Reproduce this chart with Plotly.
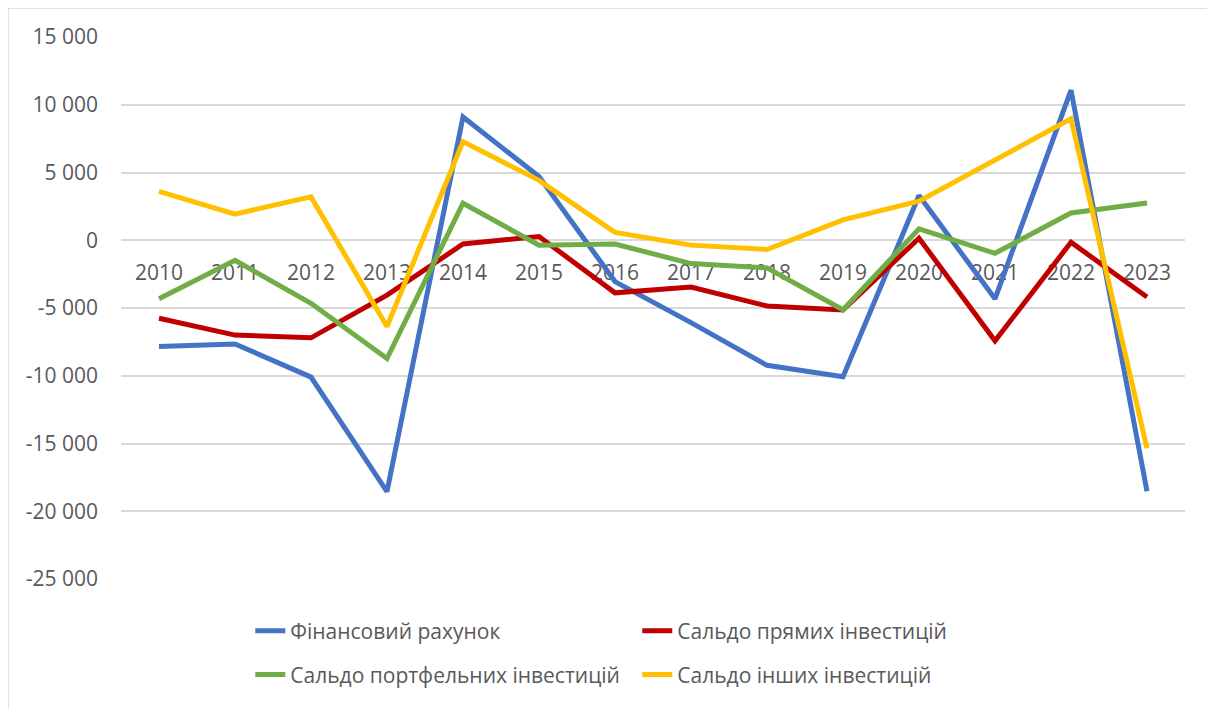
"""
Balance of the financial account, Ukraine 2010-2023 (line chart)
"""
import plotly.graph_objects as go

years = [str(y) for y in range(2010, 2024)]

# values (USD mln)
financial_account = [-7850, -7650, -10100, -18550, 9100, 4700, -3050,
                     -6080, -9230, -10070, 3300, -4320, 11080, -18520]
direct_investment = [-5760, -7000, -7200, -4050, -280, 280, -3880,
                     -3450, -4850, -5150, 150, -7420, -150, -4190]
portfolio_investment = [-4320, -1480, -4650, -8730, 2730, -360, -280,
                        -1720, -2040, -5130, 840, -960, 2010, 2750]
other_investment = [3610, 1930, 3200, -6370, 7280, 4420, 580,
                    -360, -680, 1500, 2880, 5970, 8960, -15350]

series_names = ['Фінансовий рахунок', 'Сальдо прямих інвестицій',
                'Сальдо портфельних інвестицій', 'Сальдо інших інвестицій']
series_colors = ['#4472C4', '#C00000', '#70AD47', '#FFC000']
series_legends = ['legend', 'legend', 'legend2', 'legend2']

y_ticks = [15000, 10000, 5000, 0, -5000, -10000, -15000, -20000, -25000]
y_ticktext = [f"{v:,}".replace(",", " ") for v in y_ticks]

FONT = 'Open Sans'
GRID = '#d9d9d9'
TEXT = '#595959'

fig = go.Figure()

for name, values, color, leg in zip(series_names,
                                    [financial_account, direct_investment,
                                     portfolio_investment, other_investment],
                                    series_colors, series_legends):
    fig.add_trace(go.Scatter(
        x=years,
        y=values,
        mode='lines',
        name=name,
        legend=leg,
        line=dict(color=color, width=5),
        hovertemplate='%{x}: %{y}<extra>' + name + '</extra>'
    ))

legend_style = dict(
    orientation='h',
    xanchor='left',
    yanchor='middle',
    entrywidth=342,
    font=dict(family=FONT, size=21, color=TEXT),
    bgcolor='rgba(0,0,0,0)',
)

# the page has an 8px body margin, so margins are shifted by 8px
fig.update_layout(
    width=1215,
    height=708,
    margin=dict(l=113, r=38, t=29, b=137),
    paper_bgcolor='white',
    plot_bgcolor='white',
    font=dict(family=FONT, size=21, color=TEXT),
    showlegend=True,
    legend=dict(x=0.1215, y=-0.096, **legend_style),
    legend2=dict(x=0.1215, y=-0.177, **legend_style),
    xaxis=dict(
        type='category',
        range=[-0.5, len(years) - 0.5],
        anchor='free',
        position=0.625,
        showline=True,
        linecolor=GRID,
        linewidth=1.5,
        showgrid=False,
        ticks='',
        ticklabelstandoff=14,
        layer='below traces',
        tickfont=dict(family=FONT, size=21, color=TEXT),
    ),
    yaxis=dict(
        range=[-25000, 15000],
        tickvals=y_ticks,
        ticktext=y_ticktext,
        showgrid=True,
        gridcolor=GRID,
        gridwidth=1.5,
        zeroline=False,
        showline=False,
        ticks='',
        ticklabelstandoff=22,
        tickfont=dict(family=FONT, size=21, color=TEXT),
    ),
    shapes=[dict(
        type='rect', xref='paper', yref='paper',
        x0=-0.1062, x1=1.0263, y0=-0.25, y1=1.0535,
        line=dict(color=GRID, width=1.5),
        layer='below'
    )],
)

fig.write_html("out.html")
